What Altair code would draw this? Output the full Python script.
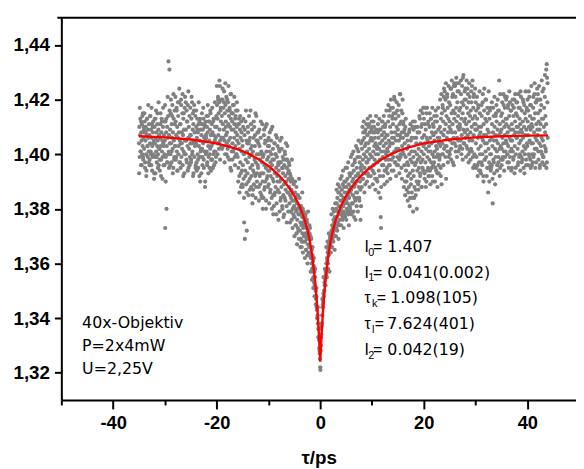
import altair as alt
import pandas as pd

# ---------------- data ----------------
# Fit curve (red line): delay tau/ps and signal
fit_x = [-35, -30, -25, -20, -18, -16, -15, -14, -12, -10, -9, -8, -7, -6, -5, -4, -3, -2.5, -2, -1.5,
         -1, -0.75, -0.5, -0.25, 0, 0.25, 0.5, 0.75, 1, 1.5, 2, 2.5, 3, 4, 5, 6, 7, 8, 9, 10,
         12, 14, 15, 16, 18, 20, 25, 30, 35, 40, 44]
fit_y = [1.4066, 1.4062, 1.4054, 1.4040, 1.4030, 1.4019, 1.4011, 1.4003, 1.3983, 1.3957, 1.3941, 1.3923,
         1.3902, 1.3877, 1.3848, 1.3811, 1.3760, 1.3725, 1.3681, 1.3620, 1.3537, 1.3482, 1.3417, 1.3337,
         1.3240, 1.3337, 1.3417, 1.3482, 1.3537, 1.3620, 1.3681, 1.3725, 1.3760, 1.3811, 1.3848, 1.3877,
         1.3902, 1.3923, 1.3941, 1.3957, 1.3983, 1.4003, 1.4011, 1.4019, 1.4030, 1.4040, 1.4054, 1.4062,
         1.4066, 1.4068, 1.4069]

# Measured points (grey): the scans start at -35 ps; each row is one ps,
# values are thousandths above 1.300
scan_start = -35.0
scan_a = [  # 16 samples per ps
    [104, 110, 99, 107, 113, 101, 96, 108, 105, 111, 100, 103, 115, 98, 106, 109],   # -35
    [102, 108, 112, 97, 105, 110, 100, 94, 107, 113, 103, 99, 109, 106, 101, 111],   # -34
    [107, 98, 104, 114, 101, 109, 96, 106, 111, 103, 99, 108, 112, 100, 105, 93],    # -33
    [110, 104, 99, 113, 106, 101, 108, 97, 103, 115, 105, 100, 109, 96, 107, 102],   # -32
    [98, 106, 111, 103, 92, 108, 113, 101, 105, 99, 110, 104, 96, 107, 112, 100],    # -31
    [105, 73, 112, 99, 108, 80, 103, 110, 97, 106, 114, 134, 101, 107, 131, 104],    # -30
    [109, 100, 115, 104, 97, 111, 106, 118, 102, 108, 95, 113, 105, 99, 116, 103],   # -29
    [103, 112, 98, 107, 117, 101, 110, 94, 106, 114, 100, 108, 119, 97, 105, 111],   # -28
    [111, 104, 120, 99, 108, 102, 115, 96, 107, 113, 101, 109, 93, 117, 105, 100],   # -27
    [100, 109, 105, 116, 97, 112, 103, 118, 106, 95, 110, 102, 114, 99, 107, 104],   # -26
    [107, 98, 113, 104, 119, 101, 109, 92, 111, 105, 116, 99, 108, 103, 114, 96],    # -25
    [104, 110, 97, 106, 113, 100, 108, 95, 111, 103, 99, 112, 105, 90, 109, 102],    # -24
    [99, 107, 111, 102, 96, 109, 104, 113, 98, 106, 101, 110, 88, 105, 112, 100],    # -23
    [106, 101, 110, 97, 108, 114, 103, 99, 112, 105, 95, 109, 102, 115, 107, 98],    # -22
    [103, 111, 98, 108, 104, 112, 100, 107, 96, 113, 105, 110, 101, 106, 99, 114],   # -21
    [110, 118, 104, 113, 121, 107, 115, 102, 119, 109, 125, 105, 116, 112, 103, 120],  # -20
    [114, 106, 120, 111, 103, 117, 109, 123, 105, 115, 100, 118, 112, 107, 121, 104],  # -19
    [108, 116, 102, 119, 111, 105, 114, 98, 117, 110, 106, 122, 113, 94, 109, 115],    # -18
    [112, 104, 115, 101, 109, 118, 106, 111, 99, 113, 103, 108, 116, 100, 110, 105],   # -17
    [107, 99, 111, 95, 104, 113, 92, 102, 109, 97, 106, 88, 112, 101, 94, 105],        # -16
    [103, 96, 110, 91, 100, 75, 107, 69, 94, 112, 98, 89, 105, 72, 101, 93],           # -15
    [97, 108, 90, 104, 114, 99, 87, 106, 95, 102, 111, 92, 100, 109, 96, 85],          # -14
    [101, 94, 106, 89, 110, 98, 103, 92, 115, 97, 88, 105, 100, 93, 108, 96],          # -13
    [95, 104, 88, 100, 109, 92, 98, 86, 106, 93, 101, 84, 97, 111, 90, 99],            # -12
    [93, 100, 107, 87, 96, 104, 90, 110, 95, 83, 101, 91, 98, 105, 88, 94],            # -11
    [99, 89, 103, 94, 108, 86, 97, 92, 105, 100, 84, 96, 110, 91, 102, 78],            # -10
    [90, 98, 85, 104, 93, 100, 88, 107, 95, 82, 99, 92, 103, 87, 96, 76],              # -9
    [94, 86, 101, 90, 105, 83, 97, 91, 88, 102, 95, 80, 99, 93, 85, 98],               # -8
    [89, 96, 84, 100, 92, 87, 104, 90, 81, 95, 98, 86, 93, 79, 91, 97],                # -7
    [88, 82, 93, 85, 79, 90, 84, 87, 76, 91, 83, 80, 86, 78, 89, 81],                  # -6
    [83, 77, 86, 80, 74, 84, 79, 71, 82, 76, 85, 73, 80, 78, 69, 81],                  # -5
    [78, 72, 81, 75, 69, 79, 74, 66, 77, 71, 80, 73, 68, 75, 70, 76],                  # -4
    [74, 68, 77, 71, 65, 73, 69, 75, 63, 70, 67, 72, 64, 69, 66, 71],                  # -3
    [69, 64, 70, 62, 66, 60, 65, 58, 63, 57, 61, 55, 59, 53, 57, 52],                  # -2
    [55, 51, 50, 47, 48, 44, 43, 40, 41, 38, 36, 33, 32, 29, 28, 25],                  # -1
    [22, 28, 30, 34, 37, 38, 41, 44, 45, 46, 49, 48, 50, 53, 52, 54],                  # 0
    [55, 57, 56, 60, 58, 62, 61, 64, 60, 65, 63, 67, 64, 66, 69, 67],                  # 1
    [68, 71, 66, 72, 70, 74, 69, 73, 71, 76, 72, 75, 70, 77, 74, 73],                  # 2
    [76, 80, 73, 82, 77, 84, 75, 79, 86, 74, 81, 78, 88, 76, 83, 79],                  # 3
    [80, 85, 78, 87, 83, 76, 89, 81, 84, 79, 88, 82, 86, 77, 90, 84],                  # 4
    [83, 88, 80, 86, 91, 82, 85, 78, 89, 84, 87, 81, 92, 86, 79, 88],                  # 5
    [87, 93, 82, 90, 96, 85, 91, 79, 94, 88, 84, 98, 89, 76, 92, 86],                  # 6
    [90, 95, 86, 99, 84, 93, 101, 88, 92, 83, 97, 90, 87, 95, 81, 94],                 # 7
    [96, 102, 91, 105, 98, 108, 93, 100, 106, 95, 103, 89, 109, 99, 104, 97],          # 8
    [101, 97, 107, 93, 104, 110, 98, 102, 95, 108, 100, 105, 92, 106, 99, 112],        # 9
    [99, 105, 94, 108, 101, 96, 110, 103, 98, 106, 91, 104, 100, 109, 97, 102],        # 10
    [103, 97, 108, 100, 106, 94, 102, 109, 98, 104, 84, 77, 73, 101, 107, 96],         # 11
    [105, 99, 110, 96, 103, 108, 101, 94, 106, 111, 98, 104, 100, 107, 95, 102],       # 12
    [107, 101, 112, 98, 105, 114, 103, 96, 110, 104, 117, 100, 108, 94, 106, 113],     # 13
    [104, 111, 99, 115, 106, 101, 120, 108, 97, 113, 105, 102, 110, 96, 116, 107],     # 14
    [109, 102, 114, 105, 98, 111, 107, 122, 100, 106, 112, 95, 108, 103, 115, 101],    # 15
    [106, 112, 100, 108, 96, 104, 90, 110, 99, 94, 107, 87, 102, 97, 105, 92],         # 16
    [96, 103, 88, 100, 109, 93, 84, 98, 105, 91, 101, 86, 97, 110, 94, 79],            # 17
    [99, 92, 106, 88, 101, 96, 110, 85, 97, 104, 90, 100, 94, 108, 98, 87],            # 18
    [102, 95, 108, 99, 113, 92, 104, 97, 110, 101, 88, 106, 98, 115, 94, 103],         # 19
    [100, 107, 93, 111, 104, 97, 109, 102, 90, 106, 117, 99, 105, 95, 112, 101],       # 20
    [103, 98, 110, 94, 106, 101, 113, 97, 104, 108, 92, 100, 111, 96, 107, 99],        # 21
    [97, 105, 101, 112, 95, 108, 103, 99, 114, 102, 93, 106, 100, 109, 96, 104],       # 22
    [106, 99, 110, 103, 95, 113, 108, 89, 115, 104, 118, 100, 112, 107, 121, 102],     # 23
    [109, 116, 103, 120, 111, 91, 114, 106, 122, 101, 117, 108, 113, 99, 119, 110],    # 24
    [112, 105, 118, 109, 124, 102, 115, 108, 121, 111, 97, 116, 106, 125, 113, 104],   # 25
    [115, 108, 121, 103, 117, 112, 126, 106, 119, 110, 114, 101, 123, 109, 116, 111],  # 26
    [110, 117, 105, 122, 113, 107, 119, 102, 115, 128, 109, 118, 104, 112, 120, 108],  # 27
    [113, 106, 120, 111, 103, 117, 109, 124, 107, 115, 100, 119, 112, 105, 121, 114],  # 28
    [108, 116, 102, 119, 110, 125, 105, 113, 99, 117, 107, 122, 111, 96, 114, 109],    # 29
    [111, 104, 116, 99, 109, 113, 96, 106, 118, 102, 110, 94, 107, 115, 100, 108],     # 30
    [103, 110, 97, 114, 106, 100, 119, 105, 92, 111, 107, 124, 98, 104, 113, 101],     # 31
    [107, 99, 112, 104, 95, 109, 115, 86, 102, 108, 97, 113, 105, 100, 117, 94],       # 32
    [100, 106, 96, 111, 103, 82, 108, 98, 114, 105, 93, 110, 102, 107, 99, 115],       # 33
    [105, 112, 101, 96, 109, 104, 116, 99, 107, 127, 102, 111, 95, 108, 103, 114],     # 34
    [109, 102, 115, 106, 98, 112, 104, 118, 101, 110, 107, 121, 99, 113, 105, 111],    # 35
    [104, 113, 100, 108, 117, 103, 110, 97, 114, 106, 119, 101, 109, 105, 116, 102],   # 36
    [111, 105, 118, 101, 109, 114, 99, 107, 120, 103, 112, 108, 95, 115, 106, 110],    # 37
    [106, 114, 102, 110, 97, 117, 108, 104, 113, 100, 111, 123, 105, 109, 99, 116],    # 38
    [108, 101, 112, 106, 119, 103, 110, 93, 115, 107, 102, 113, 98, 109, 117, 104],    # 39
    [103, 112, 107, 116, 100, 110, 121, 105, 114, 98, 109, 118, 104, 111, 96, 113],    # 40
    [110, 104, 117, 99, 113, 108, 122, 102, 115, 106, 119, 97, 111, 105, 120, 109],    # 41
    [107, 115, 101, 112, 120, 104, 109, 96, 116, 111, 103, 118, 106, 113, 100, 123],   # 42
    [105, 113, 99, 110, 117, 103, 121, 108, 114, 101, 111, 95, 133, 128, 119, 106],    # 43
]
scan_b = [  # 8 samples per ps, second pass
    [93, 117, 101, 112, 96, 114, 99, 110], [115, 95, 108, 92, 113, 103, 118, 97],      # -35, -34
    [96, 114, 100, 117, 94, 110, 104, 91], [113, 93, 116, 99, 111, 95, 119, 102],      # -33, -32
    [94, 115, 98, 112, 91, 117, 103, 96], [118, 90, 113, 97, 121, 100, 95, 116],       # -31, -30
    [96, 120, 101, 114, 93, 122, 98, 111], [121, 99, 116, 94, 119, 103, 124, 97],      # -29, -28
    [95, 118, 104, 122, 92, 115, 100, 121], [119, 98, 112, 94, 123, 106, 96, 117],     # -27, -26
    [97, 121, 100, 115, 93, 118, 104, 95], [116, 94, 109, 98, 119, 92, 113, 101],      # -25, -24
    [93, 115, 99, 117, 95, 111, 90, 107], [114, 96, 118, 93, 112, 100, 116, 94],       # -23, -22
    [98, 117, 95, 113, 101, 119, 97, 110], [125, 100, 120, 104, 127, 98, 117, 106],    # -21, -20
    [102, 124, 106, 119, 97, 126, 110, 100], [120, 99, 125, 103, 116, 95, 122, 101],   # -19, -18
    [98, 118, 102, 121, 96, 114, 100, 119], [116, 90, 111, 86, 114, 93, 108, 89],      # -17, -16
    [88, 113, 84, 109, 92, 116, 86, 104], [110, 85, 105, 91, 116, 88, 103, 82],        # -15, -14
    [87, 112, 93, 107, 84, 114, 90, 105], [108, 83, 103, 89, 112, 85, 100, 80],        # -13, -12
    [84, 109, 88, 105, 80, 111, 92, 103], [106, 82, 101, 87, 109, 80, 98, 85],         # -11, -10
    [81, 104, 86, 100, 78, 106, 90, 97], [102, 79, 97, 84, 106, 81, 95, 77],           # -9, -8
    [78, 101, 83, 98, 75, 103, 86, 94], [96, 75, 92, 79, 98, 73, 90, 77],              # -7, -6
    [70, 90, 74, 88, 67, 85, 72, 91], [84, 66, 81, 68, 86, 64, 79, 70],                # -5, -4
    [62, 78, 65, 76, 60, 79, 63, 74], [73, 57, 69, 54, 66, 51, 62, 48],                # -3, -2
    [58, 45, 51, 40, 44, 33, 36, 27], [21, 33, 38, 47, 44, 55, 50, 58],                # -1, 0
    [52, 66, 55, 68, 58, 71, 57, 70], [64, 78, 66, 80, 68, 79, 65, 82],                # 1, 2
    [70, 87, 72, 89, 69, 86, 74, 91], [74, 92, 77, 94, 73, 90, 78, 95],                # 3, 4
    [76, 95, 79, 97, 74, 93, 80, 99], [78, 100, 82, 101, 77, 97, 83, 103],             # 5, 6
    [81, 102, 79, 105, 84, 99, 76, 104], [88, 110, 91, 112, 86, 108, 93, 111],         # 7, 8
    [90, 113, 92, 111, 88, 114, 95, 109], [110, 89, 112, 93, 108, 87, 114, 91],        # 9, 10
    [90, 111, 86, 113, 92, 109, 88, 112], [112, 92, 114, 89, 110, 94, 116, 90],        # 11, 12
    [93, 118, 96, 116, 91, 120, 98, 114], [117, 94, 121, 97, 115, 92, 119, 99],        # 13, 14
    [96, 118, 93, 122, 99, 116, 91, 120], [111, 88, 109, 85, 113, 90, 107, 83],        # 15, 16
    [86, 108, 81, 111, 89, 106, 84, 112], [109, 84, 112, 87, 106, 80, 110, 89],        # 17, 18
    [90, 114, 93, 116, 88, 111, 95, 117], [113, 91, 117, 88, 115, 94, 111, 92],        # 19, 20
    [92, 115, 89, 113, 95, 117, 90, 110], [114, 90, 116, 94, 112, 88, 117, 93],        # 21, 22
    [98, 120, 92, 122, 100, 117, 96, 124], [123, 99, 126, 103, 121, 97, 125, 101],     # 23, 24
    [100, 124, 98, 127, 104, 122, 96, 126], [125, 101, 128, 99, 123, 105, 126, 102],   # 25, 26
    [103, 127, 100, 125, 98, 129, 104, 123], [124, 99, 127, 102, 122, 97, 126, 101],   # 27, 28
    [98, 123, 101, 127, 95, 121, 100, 124], [119, 95, 121, 92, 117, 97, 123, 94],      # 29, 30
    [93, 118, 96, 122, 90, 116, 98, 120], [120, 92, 117, 95, 123, 90, 116, 96],        # 31, 32
    [95, 119, 91, 117, 97, 121, 89, 114], [118, 94, 120, 97, 116, 92, 122, 98],        # 33, 34
    [96, 119, 99, 122, 94, 117, 101, 120], [121, 97, 118, 95, 123, 99, 116, 94],       # 35, 36
    [95, 120, 98, 117, 93, 122, 100, 119], [119, 96, 122, 99, 117, 94, 121, 97],       # 37, 38
    [98, 120, 95, 118, 100, 123, 96, 116], [120, 96, 123, 99, 118, 95, 125, 100],      # 39, 40
    [97, 121, 100, 126, 95, 119, 102, 124], [122, 98, 125, 95, 120, 101, 127, 97],     # 41, 42
    [99, 124, 96, 129, 102, 131, 97, 126],                                             # 43
]

# Axis ticks (major ones carry labels)
x_tick_values = [-50, -40, -30, -20, -10, 0, 10, 20, 30, 40]
y_tick_values = [1.32, 1.33, 1.34, 1.35, 1.36, 1.37, 1.38, 1.39, 1.40, 1.41, 1.42, 1.43, 1.44]

# Text annotations
left_notes = ["40x-Objektiv", "P=2x4mW", "U=2,25V"]
fit_symbols = ["I", "I", "τ", "τ", "I"]
fit_subscripts = ["0", "1", "k", "l", "2"]
fit_values = ["1.407", "0.041(0.002)", "1.098(105)", "7.624(401)", "0.042(19)"]

# ---------------- build tables ----------------
pts_x, pts_y = [], []
for rows, offset in ((scan_a, 0.0), (scan_b, 1.0 / 32)):
    for i, row in enumerate(rows):
        n = len(row)
        for k, v in enumerate(row):
            pts_x.append(scan_start + i + k / n + offset)
            pts_y.append(1.3 + v / 1000.0)
points_df = pd.DataFrame({"x": pts_x, "y": pts_y})
fit_df = pd.DataFrame({"x": fit_x, "y": fit_y})
one = pd.DataFrame({"a": [0]})

FONT = "Liberation Sans"
NOTE_FONT = "DejaVu Sans"
W, H = 521, 387

x_scale = alt.Scale(domain=[-50, 49.4], nice=False, zero=False)
y_scale = alt.Scale(domain=[1.31, 1.45], nice=False, zero=False)

x_axis = alt.Axis(
    values=x_tick_values,
    labelExpr="datum.value % 20 == 0 && datum.value > -50 ? '' + datum.value : ''",
    tickSize={"condition": {"test": "datum.value % 20 == 0", "value": 9}, "value": 5},
    tickWidth=2, tickColor="black", domainColor="black", domainWidth=2,
    labelFont=FONT, labelFontSize=18.5, labelFontWeight="bold", labelColor="black",
    labelPadding=5, labelOverlap=False, labelFlush=False, grid=False,
    title="τ/ps", titleFont=FONT, titleFontSize=19, titleFontWeight="bold",
    titleColor="black", titlePadding=17,
)
y_axis = alt.Axis(
    values=y_tick_values,
    labelExpr="round(datum.value * 100) % 2 == 0 ? replace(format(datum.value, '.2f'), '.', ',') : ''",
    tickSize={"condition": {"test": "round(datum.value * 100) % 2 == 0", "value": 7}, "value": 4},
    tickWidth=2, tickColor="black", domainColor="black", domainWidth=2,
    labelFont=FONT, labelFontSize=19, labelFontWeight="bold", labelColor="black",
    labelPadding=5, labelOverlap=False, labelFlush=False, grid=False, title=None,
)

points = alt.Chart(points_df).mark_circle(size=18, color="#808080", opacity=1).encode(
    x=alt.X("x:Q", scale=x_scale, axis=x_axis),
    y=alt.Y("y:Q", scale=y_scale, axis=y_axis),
)
fit = alt.Chart(fit_df).mark_line(color="#ff0000", strokeWidth=2.4).encode(
    x=alt.X("x:Q", scale=x_scale),
    y=alt.Y("y:Q", scale=y_scale),
)
top_frame = alt.Chart(one).mark_rule(color="black", strokeWidth=2).encode(
    x=alt.value(-4), x2=alt.value(W + 10), y=alt.value(0)
)


def label(text, px, py, size=16, font=NOTE_FONT):
    return alt.Chart(one).mark_text(
        font=font, fontSize=size, color="black", align="left", baseline="middle"
    ).encode(x=alt.value(px), y=alt.value(py), text=alt.value(text))


layers = [points, fit, top_frame]

# left note block
for j, t in enumerate(left_notes):
    layers.append(label(t, 21, 309 + 23.5 * j))

# fit parameter block
sym_w = {"I": 3.8, "τ": 7.6}
for j, (s, sub, val) in enumerate(zip(fit_symbols, fit_subscripts, fit_values)):
    yc = 232 + 26 * j
    layers.append(label(s, 307, yc, font=FONT))
    sx = 307 + sym_w[s]
    layers.append(label(sub, sx, yc + 6, size=11, font=FONT))
    sub_w = 2.6 if sub == "l" else 4.6
    layers.append(label("=", sx + sub_w, yc, font=FONT))
    layers.append(label(val, 333 if sub == "k" else 330, yc))

chart = alt.layer(*layers).properties(
    width=W, height=H,
    padding={"left": 54, "top": 7, "right": 0, "bottom": 67},
    autosize=alt.AutoSizeParams(type="none"),
    background="white",
).configure_view(strokeWidth=0)

chart.save("out.html", embed_options={"renderer": "svg", "actions": False})
